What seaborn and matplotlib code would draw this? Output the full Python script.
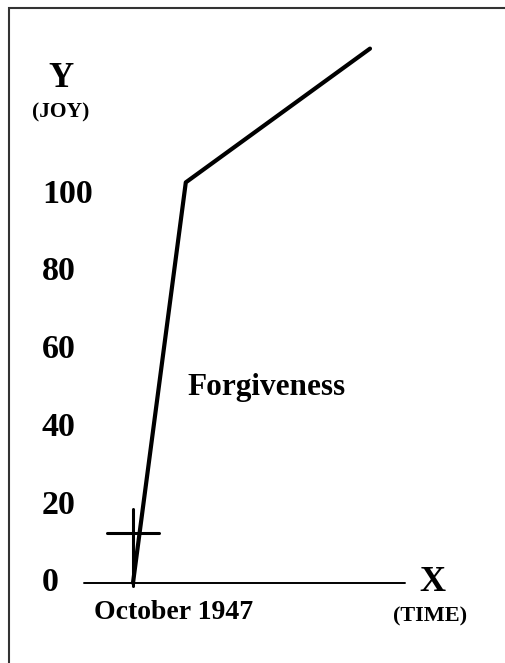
import matplotlib
matplotlib.use("Agg")
import matplotlib.pyplot as plt
import seaborn as sns
import pandas as pd

# joy curve: time (arbitrary units) vs joy
time_pts = [0, 13.2, 59.25]
joy_pts = [0, 103, 137.4]

y_ticks = [0, 20, 40, 60, 80, 100]
y_tick_labels = ["0", "20", "40", "60", "80", "100"]

# cross marker near the origin
cross_x = 0
cross_y_range = [-0.7, 18.9]
cross_bar_y = 12.85
cross_bar_x = [-6.5, 6.5]

axis_x_range = [-12.25, 68]

sns.set_style("white")
plt.rcParams['font.family'] = ['Liberation Serif', 'DejaVu Serif']
plt.rcParams['text.color'] = 'black'

fig = plt.figure(figsize=(5.05, 6.63), dpi=100)
ax = fig.add_axes([0, 0, 1, 1])
ax.set_xlim(-33.25, 93)
ax.set_ylim(-20.6, 149.9)
ax.axis("off")

df = pd.DataFrame({"time": time_pts, "joy": joy_pts})
sns.lineplot(data=df, x="time", y="joy", ax=ax, color="black", lw=3.0,
             sort=False, estimator=None)

# x axis line
ax.plot(axis_x_range, [0, 0], color="black", lw=1.4)

# cross
ax.plot([cross_x, cross_x], cross_y_range, color="black", lw=2.2)
ax.plot(cross_bar_x, [cross_bar_y, cross_bar_y], color="black", lw=2.2)

# y tick labels
for v, lab in zip(y_ticks, y_tick_labels):
    ax.text(-22.75, v, lab, ha="left", va="center", fontsize=24.5,
            fontweight="bold", color="black")

bold = dict(fontweight="bold", color="black")
ax.text(-18, 129.6, "Y", ha="center", va="center", fontsize=25, **bold)
ax.text(-18, 121.1, "(JOY)", ha="center", va="center", fontsize=15.5, **bold)
ax.text(74.75, 0, "X", ha="center", va="center", fontsize=26, **bold)
ax.text(74.25, -8.7, "(TIME)", ha="center", va="center", fontsize=16, **bold)
ax.text(10.25, -7.5, "October 1947", ha="center", va="center", fontsize=20, **bold)
ax.text(13.5, 48.3, "Forgiveness", ha="left", va="baseline", fontsize=22.5, **bold)

# frame (left and top edges visible)
fig.patches.append(plt.Rectangle((8.5 / 505, -0.1), 1.2, 1.1 - 8.5 / 663,
                                 transform=fig.transFigure, fill=False,
                                 edgecolor="#333333", lw=1.5))

fig.savefig("out.png", dpi=100)
